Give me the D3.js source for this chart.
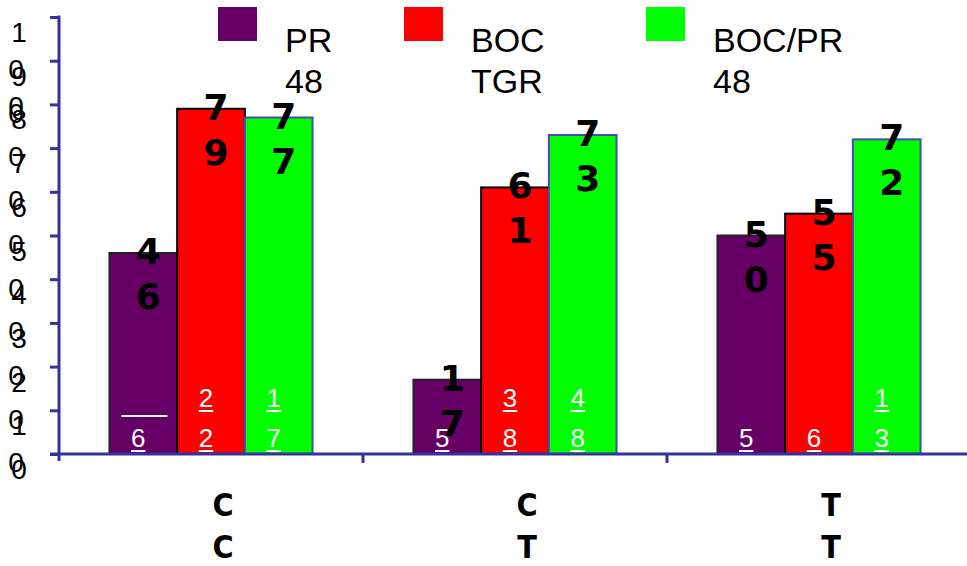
<!DOCTYPE html>
<html>
<head>
<meta charset="utf-8">
<script src="https://cdn.jsdelivr.net/npm/d3@7"></script>
<style>
  html, body { margin: 0; padding: 0; background: #fff; }
  svg { display: block; }
</style>
</head>
<body>
<script>
// ---- data ----
const categories = ["CC", "CT", "TT"];
const seriesKeys = ["PR48", "BOCTGR", "BOCPR48"];
const seriesLabels = [["PR", "48"], ["BOC", "TGR"], ["BOC/PR", "48"]];
const seriesColors = ["#660066", "#ff0000", "#00ff00"];
const seriesStrokes = ["#222222", "#000000", "#4a4ab4"];
const prValues = [46, 17, 50];
const bocValues = [79, 61, 55];
const bocprValues = [77, 73, 72];
const prCounts = [" 6", "5", "5"];
const bocCounts = ["22", "38", "6"];
const bocprCounts = ["17", "48", "13"];
const yTicks = [0, 10, 20, 30, 40, 50, 60, 70, 80, 90, 100];
const yTickLabels = ["0", "10", "20", "30", "40", "50", "60", "70", "80", "90", "100"];

const seriesValues = [prValues, bocValues, bocprValues];
const seriesCounts = [prCounts, bocCounts, bocprCounts];

// ---- layout ----
const W = 967, H = 566;
const axisColor = "#333399";
const svg = d3.select("body").append("svg").attr("width", W).attr("height", H);

const x0 = d3.scaleBand().domain(categories).range([59, 971]).padding(0);
const x1 = d3.scaleBand().domain(seriesKeys).range([0, x0.bandwidth()])
  .paddingInner(0).paddingOuter(0.745);
const y = d3.scaleLinear().domain([0, 100]).range([454, 17]);

const rows = [];
categories.forEach((c, ci) => {
  seriesKeys.forEach((k, si) => {
    rows.push({ cat: c, key: k, si, value: seriesValues[si][ci], count: seriesCounts[si][ci] });
  });
});

// bars
svg.append("g").selectAll("rect").data(rows).join("rect")
  .attr("x", d => x0(d.cat) + x1(d.key))
  .attr("y", d => y(d.value))
  .attr("width", x1.bandwidth())
  .attr("height", d => y(0) - y(d.value))
  .attr("fill", d => seriesColors[d.si])
  .attr("stroke", d => seriesStrokes[d.si])
  .attr("stroke-width", 2);

// value labels (each digit on its own line)
const vl = svg.append("g").selectAll("text").data(rows).join("text")
  .attr("font-family", "'DejaVu Sans', sans-serif")
  .attr("font-weight", "bold")
  .attr("font-size", 36)
  .attr("fill", "#000")
  .attr("text-anchor", "middle");
vl.each(function(d) {
  const cx = x0(d.cat) + x1(d.key) + x1.bandwidth() / 2 + 5;
  const top = y(d.value);
  const chars = String(d.value).split("");
  d3.select(this).selectAll("tspan").data(chars).join("tspan")
    .attr("x", cx)
    .attr("y", (c, i) => top + 11 + i * 45)
    .text(c => c);
});

// count labels (white, underlined, bottom aligned)
const cg = svg.append("g");
rows.forEach(d => {
  const cx = x0(d.cat) + x1(d.key) + x1.bandwidth() / 2 - 5;
  const chars = d.count.split("");
  const n = chars.length;
  chars.forEach((c, i) => {
    const base = 447 - (n - 1 - i) * 40;
    if (c === " ") {
      cg.append("line")
        .attr("x1", cx + 6 - 23).attr("x2", cx + 6 + 23)
        .attr("y1", base + 9).attr("y2", base + 9)
        .attr("stroke", "#fff").attr("stroke-width", 2);
      return;
    }
    const t = cg.append("text")
      .attr("x", cx).attr("y", base)
      .attr("text-anchor", "middle")
      .attr("font-family", "'Liberation Sans', Arial, sans-serif")
      .attr("font-size", 26)
      .attr("fill", "#fff")
      .text(c);
    const w = t.node().getComputedTextLength();
    cg.append("line")
      .attr("x1", cx - w / 2).attr("x2", cx + w / 2)
      .attr("y1", base + 4).attr("y2", base + 4)
      .attr("stroke", "#fff").attr("stroke-width", 2);
  });
});

// y axis
const yAxis = svg.append("g").attr("transform", "translate(59,0)")
  .call(d3.axisLeft(y).tickValues(yTicks).tickSize(9).tickSizeOuter(0).tickFormat(""));
yAxis.select(".domain").remove();
yAxis.selectAll(".tick line").attr("stroke", axisColor).attr("stroke-width", 3);
svg.append("line").attr("x1", 59).attr("x2", 59).attr("y1", y(100) - 1.5).attr("y2", y(0) + 7)
  .attr("stroke", axisColor).attr("stroke-width", 3);

// y tick labels: each character on its own line
const yl = svg.append("g").selectAll("text").data(yTicks).join("text")
  .attr("font-family", "'Liberation Sans', Arial, sans-serif")
  .attr("font-size", 28)
  .attr("fill", "#000")
  .attr("text-anchor", "middle");
yl.each(function(v, i) {
  const chars = yTickLabels[i].split("");
  d3.select(this).selectAll("tspan").data(chars).join("tspan")
    .attr("x", (c, j) => j === 0 ? 19 : 16)
    .attr("y", (c, j) => y(v) + 25 + j * 37)
    .text(c => c);
});

// x axis
svg.append("line").attr("x1", 50).attr("x2", W).attr("y1", y(0)).attr("y2", y(0))
  .attr("stroke", axisColor).attr("stroke-width", 3);
svg.append("g").selectAll("line").data(categories.slice(1)).join("line")
  .attr("x1", d => x0(d)).attr("x2", d => x0(d))
  .attr("y1", y(0)).attr("y2", y(0) + 9)
  .attr("stroke", axisColor).attr("stroke-width", 3);

// category labels
const xl = svg.append("g").selectAll("text").data(categories).join("text")
  .attr("font-family", "'DejaVu Sans Condensed', 'DejaVu Sans', sans-serif")
  .attr("font-stretch", "condensed")
  .attr("font-weight", "bold")
  .attr("font-size", 32)
  .attr("fill", "#000")
  .attr("text-anchor", "middle");
xl.each(function(c) {
  const cx = x0(c) + x0.bandwidth() / 2 + 12;
  d3.select(this).selectAll("tspan").data(c.split("")).join("tspan")
    .attr("x", cx)
    .attr("y", (ch, j) => 516 + j * 42)
    .text(ch => ch);
});

// legend
const legendX = [218, 404, 646];
const lg = svg.append("g").selectAll("g").data(seriesKeys).join("g")
  .attr("transform", (d, i) => `translate(${legendX[i]},7)`);
lg.append("rect").attr("width", 39).attr("height", 34)
  .attr("fill", (d, i) => seriesColors[i]);
lg.append("text")
  .attr("font-family", "'Liberation Sans', Arial, sans-serif")
  .attr("font-size", 34)
  .attr("fill", "#000")
  .each(function(d, i) {
    d3.select(this).selectAll("tspan").data(seriesLabels[i]).join("tspan")
      .attr("x", 67)
      .attr("y", (s, j) => 45 + j * 41)
      .text(s => s);
  });
</script>
</body>
</html>
